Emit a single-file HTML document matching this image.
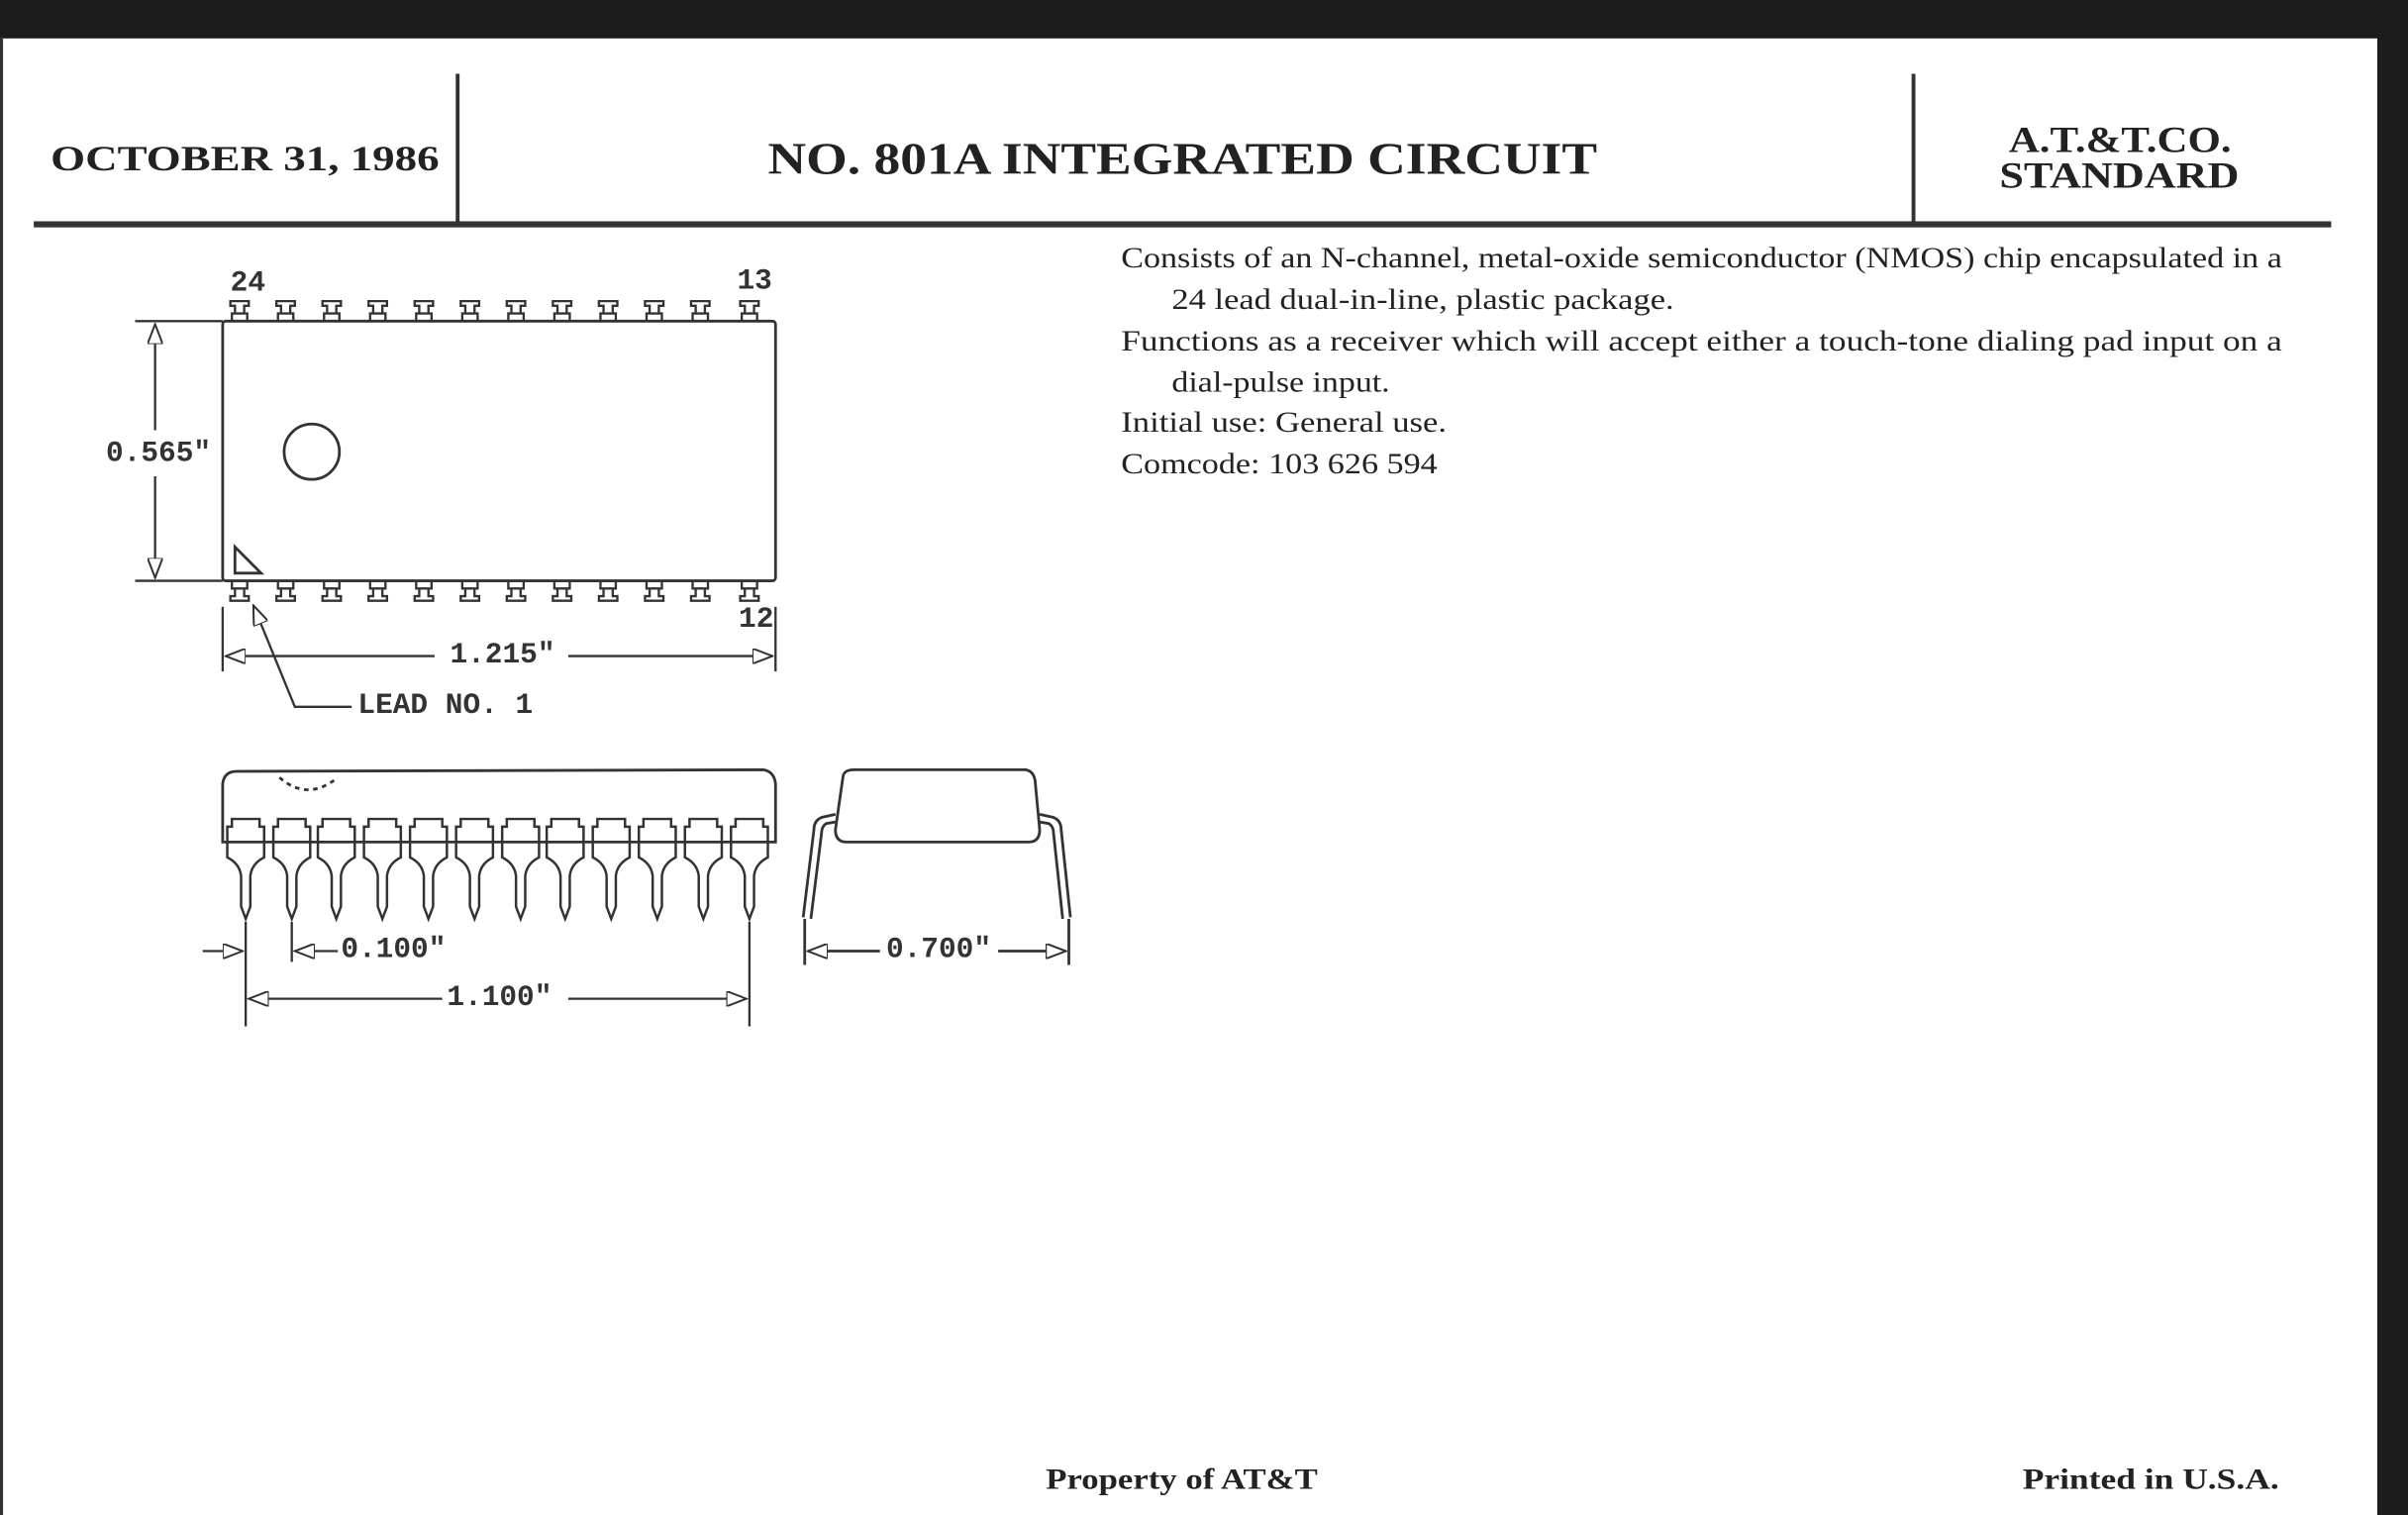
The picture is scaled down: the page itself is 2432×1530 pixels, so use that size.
<!DOCTYPE html>
<html><head><style>
html,body{margin:0;padding:0;background:#fff;}
svg{display:block;}
.s{font-family:"Liberation Serif",serif;font-weight:bold;fill:#222;}
.d{font-family:"Liberation Serif",serif;fill:#222;font-size:19px;}
.m{font-family:"Liberation Mono","DejaVu Sans Mono",monospace;font-weight:bold;fill:#333;font-size:19px;}
</style></head><body>
<svg width="2432" height="1530" viewBox="0 0 1568 986" preserveAspectRatio="none" xmlns="http://www.w3.org/2000/svg">
<defs>
<marker id="ah" markerWidth="14" markerHeight="10" refX="13" refY="5" orient="auto" markerUnits="userSpaceOnUse">
<path d="M0,0 L13,5 L0,10 Z" fill="#fff" stroke="#333" stroke-width="1.3"/></marker>
<g id="tp"><path d="M-5,0 V-5 H5 V0 M-3,-5 V-10 H-6 V-13 H6 V-10 H3 V-5" fill="none" stroke="#333" stroke-width="1.5"/></g>
<g id="bp"><path d="M-5,0 V5 H5 V0 M-3,5 V10 H-6 V13 H6 V10 H3 V5" fill="none" stroke="#333" stroke-width="1.5"/></g>
<g id="lg"><path d="M-12,50 V38 H-9 V33 H9 V38 H12 V50 M-12,50 L-12,58 Q-4,62 -3,70 V90 L0,98 L3,90 V70 Q4,62 12,58 V50" fill="none" stroke="#333" stroke-width="1.6"/></g>
</defs>
<rect x="0" y="0" width="1568" height="986" fill="#fff"/>
<rect x="0" y="0" width="1568" height="25" fill="#1c1c1c"/>
<rect x="1548" y="0" width="20" height="986" fill="#1c1c1c"/>
<rect x="0" y="25" width="2" height="961" fill="#333"/>
<!-- header -->
<line x1="298" y1="48" x2="298" y2="145" stroke="#333" stroke-width="2.5"/>
<line x1="1246" y1="48" x2="1246" y2="145" stroke="#333" stroke-width="2.5"/>
<rect x="22" y="144" width="1496" height="4" fill="#333"/>
<text class="s" x="33" y="111" font-size="23" textLength="253" lengthAdjust="spacingAndGlyphs">OCTOBER 31, 1986</text>
<text class="s" x="500" y="113" font-size="29" textLength="540" lengthAdjust="spacingAndGlyphs">NO. 801A INTEGRATED CIRCUIT</text>
<text class="s" x="1308" y="99" font-size="24" textLength="145" lengthAdjust="spacingAndGlyphs">A.T.&amp;T.CO.</text>
<text class="s" x="1302" y="122" font-size="24" textLength="156" lengthAdjust="spacingAndGlyphs">STANDARD</text>
<!-- description -->
<text class="d" x="730" y="174" textLength="756" lengthAdjust="spacingAndGlyphs">Consists of an N-channel, metal-oxide semiconductor (NMOS) chip encapsulated in a</text>
<text class="d" x="763" y="201" textLength="327" lengthAdjust="spacingAndGlyphs">24 lead dual-in-line, plastic package.</text>
<text class="d" x="730" y="228" textLength="756" lengthAdjust="spacingAndGlyphs">Functions as a receiver which will accept either a touch-tone dialing pad input on a</text>
<text class="d" x="763" y="255" textLength="142" lengthAdjust="spacingAndGlyphs">dial-pulse input.</text>
<text class="d" x="730" y="281" textLength="212" lengthAdjust="spacingAndGlyphs">Initial use: General use.</text>
<text class="d" x="730" y="308" textLength="206" lengthAdjust="spacingAndGlyphs">Comcode: 103 626 594</text>
<!-- top view -->
<g stroke="#333" fill="none" stroke-width="1.8">
<rect x="145" y="209" width="360" height="169" rx="2"/>
<circle cx="203" cy="294" r="18"/>
<path d="M153,356 L153,373 L170,373 Z"/>
</g>
<g>
<use href="#tp" x="156" y="209"/><use href="#tp" x="186" y="209"/><use href="#tp" x="216" y="209"/><use href="#tp" x="246" y="209"/><use href="#tp" x="276" y="209"/><use href="#tp" x="306" y="209"/><use href="#tp" x="336" y="209"/><use href="#tp" x="366" y="209"/><use href="#tp" x="396" y="209"/><use href="#tp" x="426" y="209"/><use href="#tp" x="456" y="209"/><use href="#tp" x="488" y="209"/>
<use href="#bp" x="156" y="378"/><use href="#bp" x="186" y="378"/><use href="#bp" x="216" y="378"/><use href="#bp" x="246" y="378"/><use href="#bp" x="276" y="378"/><use href="#bp" x="306" y="378"/><use href="#bp" x="336" y="378"/><use href="#bp" x="366" y="378"/><use href="#bp" x="396" y="378"/><use href="#bp" x="426" y="378"/><use href="#bp" x="456" y="378"/><use href="#bp" x="488" y="378"/>
</g>
<text class="m" x="150" y="189" font-size="18">24</text>
<text class="m" x="480" y="188" font-size="18">13</text>
<text class="m" x="481" y="408" font-size="18">12</text>
<!-- vertical dim -->
<g stroke="#333" stroke-width="1.5" fill="none">
<line x1="88" y1="209" x2="145" y2="209"/>
<line x1="88" y1="378" x2="145" y2="378"/>
<line x1="101" y1="280" x2="101" y2="211" marker-end="url(#ah)"/>
<line x1="101" y1="310" x2="101" y2="376" marker-end="url(#ah)"/>
<line x1="145" y1="395" x2="145" y2="437"/>
<line x1="505" y1="395" x2="505" y2="437"/>
<line x1="283" y1="427" x2="147" y2="427" marker-end="url(#ah)"/>
<line x1="370" y1="427" x2="503" y2="427" marker-end="url(#ah)"/>
<polyline points="229,460 192,460 165,394" marker-end="url(#ah)"/>
</g>
<text class="m" x="69" y="300">0.565"</text>
<text class="m" x="293" y="431">1.215"</text>
<text class="m" x="233" y="464">LEAD NO. 1</text>
<!-- side view -->
<g stroke="#333" stroke-width="1.8" fill="none">
<path d="M145,548 L145,510 Q146,502 154,502 L497,501 Q504,502 505,510 L505,548 Z" fill="#fff"/>
<path d="M182,506 Q200,522 220,506" stroke-dasharray="3,3"/>
</g>
<g fill="#fff">
<use href="#lg" x="160" y="500"/><use href="#lg" x="190" y="500"/><use href="#lg" x="219" y="500"/><use href="#lg" x="249" y="500"/><use href="#lg" x="279" y="500"/><use href="#lg" x="309" y="500"/><use href="#lg" x="339" y="500"/><use href="#lg" x="368" y="500"/><use href="#lg" x="398" y="500"/><use href="#lg" x="428" y="500"/><use href="#lg" x="458" y="500"/><use href="#lg" x="488" y="500"/>
</g>
<g stroke="#333" stroke-width="1.5" fill="none">
<line x1="160" y1="600" x2="160" y2="668"/>
<line x1="190" y1="600" x2="190" y2="626"/>
<line x1="488" y1="600" x2="488" y2="668"/>
<line x1="132" y1="619" x2="158" y2="619" marker-end="url(#ah)"/>
<line x1="220" y1="619" x2="192" y2="619" marker-end="url(#ah)"/>
<line x1="288" y1="650" x2="162" y2="650" marker-end="url(#ah)"/>
<line x1="370" y1="650" x2="486" y2="650" marker-end="url(#ah)"/>
</g>
<text class="m" x="222" y="623">0.100"</text>
<text class="m" x="291" y="654">1.100"</text>
<!-- end view -->
<g stroke="#333" stroke-width="1.8" fill="none">
<path d="M549,505 Q550,501 556,501 L668,501 Q673,502 674,508 L677,540 Q677,548 670,548 L551,548 Q544,548 544,540 Z"/>
<path d="M544,530 L535,532 Q530,534 530,540 L523,597"/>
<path d="M544,535 L538,536 Q535,538 535,542 L528,598"/>
<path d="M677,530 L686,532 Q691,534 691,540 L697,597"/>
<path d="M677,535 L683,536 Q686,538 686,542 L692,598"/>
<line x1="524" y1="598" x2="524" y2="628"/>
<line x1="696" y1="598" x2="696" y2="628"/>
<line x1="573" y1="619" x2="526" y2="619" marker-end="url(#ah)"/>
<line x1="650" y1="619" x2="694" y2="619" marker-end="url(#ah)"/>
</g>
<text class="m" x="577" y="623">0.700"</text>
<!-- footer -->
<text class="s" x="681" y="969" font-size="19" textLength="177" lengthAdjust="spacingAndGlyphs">Property of AT&amp;T</text>
<text class="s" x="1317" y="969" font-size="19" textLength="167" lengthAdjust="spacingAndGlyphs">Printed in U.S.A.</text>
</svg>
</body></html>
